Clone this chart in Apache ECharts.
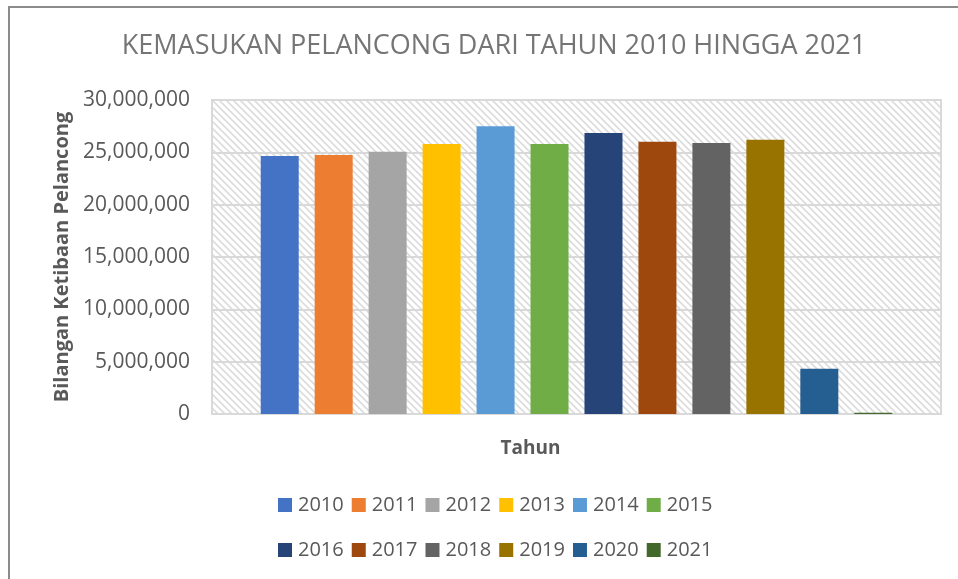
<!DOCTYPE html>
<html>
<head>
<meta charset="utf-8">
<script src="https://cdn.jsdelivr.net/npm/echarts@6/dist/echarts.min.js"></script>
<style>
	html, body{
		margin: 0;
		padding: 0;
		background: #fff;
	}
	#main{
		width: 958px;
		height: 579px;
	}
</style>
</head>
<body>
<div id="main"></div>
<script type="text/javascript">
// data
var years = ['2010','2011','2012','2013','2014','2015','2016','2017','2018','2019','2020','2021'];
var arrivals = [24650000, 24740000, 25060000, 25800000, 27500000, 25800000, 26850000, 26000000, 25900000, 26200000, 4330000, 130000];
var barColors = ['#4472C4','#ED7D31','#A5A5A5','#FFC000','#5B9BD5','#70AD47','#264478','#9E480E','#636363','#997300','#255E91','#43682B'];
var yTicks = [0, 5000000, 10000000, 15000000, 20000000, 25000000, 30000000];

var fontName = '"Open Sans", sans-serif';

// diagonal hatch for the plot area
function hatch(){
	var c = document.createElement('canvas');
	c.width = 7;
	c.height = 7;
	var ctx = c.getContext('2d');
	ctx.fillStyle = '#ffffff';
	ctx.fillRect(0, 0, 7, 7);
	ctx.strokeStyle = '#dcdcdc';
	ctx.lineWidth = 1.6;
	ctx.beginPath();
	ctx.moveTo(-1, -1); ctx.lineTo(8, 8);
	ctx.moveTo(-8, -1); ctx.lineTo(1, 8);
	ctx.moveTo(6, -1); ctx.lineTo(15, 8);
	ctx.stroke();
	return c;
}

var myChart = echarts.init(document.getElementById('main'));

var series = [];
for (var i = 0; i < years.length; i++) {
	series.push({
		name: years[i],
		type: 'bar',
		barWidth: 38,
		barGap: '42%',
		itemStyle: { color: barColors[i] },
		data: [arrivals[i]]
	});
}

var legendText = { fontFamily: fontName, fontSize: 20, color: '#595959', padding: [0, 0, 0, 1] };

var option = {
	animation: false,
	color: barColors,
	title: {
		text: 'KEMASUKAN PELANCONG DARI TAHUN 2010 HINGGA 2021',
		left: 489,
		top: 28,
		textAlign: 'center',
		textStyle: {
			fontFamily: fontName,
			fontSize: 27,
			fontWeight: 'normal',
			color: '#757575'
		}
	},
	legend: [{
		data: years.slice(0, 6),
		left: 273,
		top: 490,
		itemWidth: 14,
		itemHeight: 14,
		itemGap: 8,
		icon: 'rect',
		textStyle: legendText
	}, {
		data: years.slice(6),
		left: 273,
		top: 535,
		itemWidth: 14,
		itemHeight: 14,
		itemGap: 8,
		icon: 'rect',
		textStyle: legendText
	}],
	grid: {
		left: 212,
		right: 17,
		top: 100,
		bottom: 165,
		show: true,
		borderColor: '#d9d9d9',
		borderWidth: 2,
		backgroundColor: { image: hatch(), repeat: 'repeat' }
	},
	xAxis: {
		type: 'category',
		data: [''],
		name: 'Tahun',
		nameLocation: 'middle',
		nameGap: 25,
		nameTextStyle: {
			fontFamily: fontName,
			fontSize: 19,
			fontWeight: 'bold',
			color: '#595959',
			padding: [0, 92, 0, 0]
		},
		axisTick: { show: false },
		axisLabel: { show: false },
		axisLine: { lineStyle: { color: '#d9d9d9', width: 2 } }
	},
	yAxis: {
		type: 'value',
		min: yTicks[0],
		max: yTicks[yTicks.length - 1],
		interval: yTicks[1] - yTicks[0],
		name: 'Bilangan Ketibaan Pelancong',
		nameLocation: 'middle',
		nameGap: 139,
		nameTextStyle: {
			fontFamily: fontName,
			fontSize: 20,
			fontWeight: 'bold',
			color: '#595959'
		},
		axisLine: { show: false },
		axisTick: { show: false },
		axisLabel: {
			margin: 22,
			fontFamily: fontName,
			fontSize: 21,
			color: '#595959',
			formatter: function (v) {
				return v.toString().replace(/\B(?=(\d{3})+(?!\d))/g, ',');
			}
		},
		splitLine: { lineStyle: { color: '#d9d9d9', width: 2 } }
	},
	graphic: [{
		type: 'rect',
		shape: { x: 9, y: 7, width: 1000, height: 620 },
		style: { fill: 'none', stroke: '#8c8c8c', lineWidth: 2 },
		silent: true
	}],
	series: series
};

myChart.setOption(option);
</script>
</body>
</html>
